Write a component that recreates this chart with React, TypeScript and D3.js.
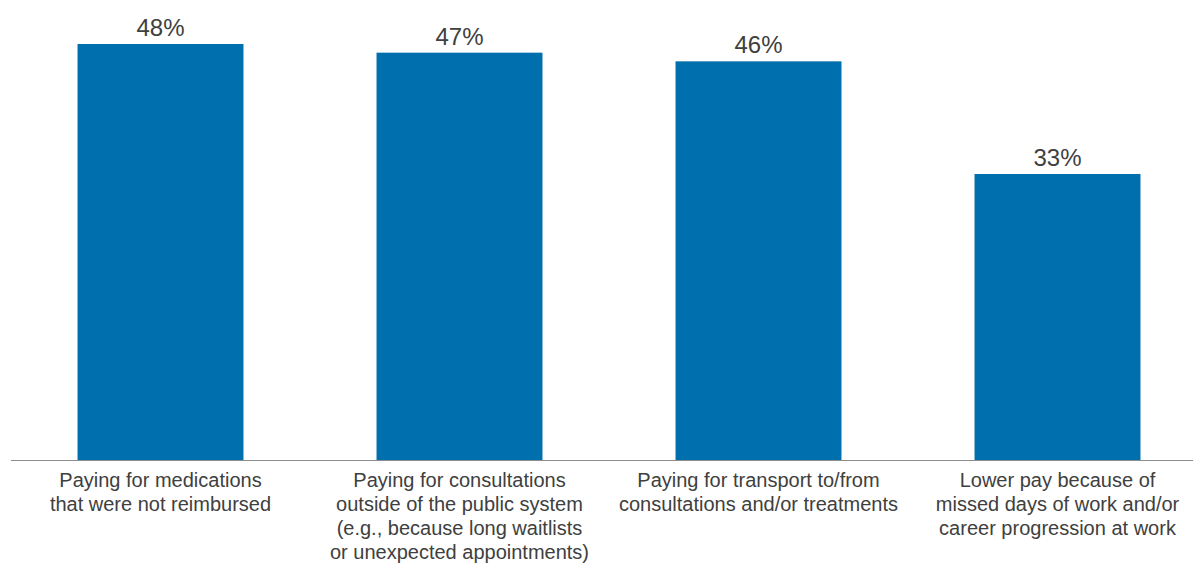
import React from "react";
import * as d3 from "d3";

const categories: string[][] = [
  ["Paying for medications", "that were not reimbursed"],
  ["Paying for consultations", "outside of the public system", "(e.g., because long waitlists", "or unexpected appointments)"],
  ["Paying for transport to/from", "consultations and/or treatments"],
  ["Lower pay because of", "missed days of work and/or", "career progression at work"],
];
const values: number[] = [48, 47, 46, 33];
const valueLabels: string[] = ["48%", "47%", "46%", "33%"];

const W = 1193;
const H = 563;
const BAR = "#006FAD";
const TEXT = "#404040";
const FONT = "'Liberation Sans', Arial, sans-serif";

export default function App() {
  const ids = categories.map((_, i) => String(i));
  const x = d3.scaleBand<string>().domain(ids).range([11, 1207]).paddingInner(0.445).paddingOuter(0.2225);
  const y = d3.scaleLinear().domain([0, 48]).range([460, 44]);
  const baseY = y(0);
  return (
    <svg width={W} height={H} style={{ position: "absolute", left: 0, top: 0, display: "block" }} fontFamily={FONT}>
      {values.map((v, i) => (
        <g key={i}>
          <rect x={x(ids[i])!} y={y(v)} width={x.bandwidth()} height={baseY - y(v)} fill={BAR} />
          <text x={x(ids[i])! + x.bandwidth() / 2} y={y(v) - 8} textAnchor="middle" fontSize={24} fill={TEXT}>
            {valueLabels[i]}
          </text>
        </g>
      ))}
      <line x1={11} x2={W} y1={baseY + 0.5} y2={baseY + 0.5} stroke="#8c8c8c" strokeWidth={1} />
      {categories.map((lines, i) => (
        <text key={i} textAnchor="middle" fontSize={20} fill={TEXT}>
          {lines.map((l, j) => (
            <tspan key={j} x={x(ids[i])! + x.bandwidth() / 2} y={487 + j * 24}>
              {l}
            </tspan>
          ))}
        </text>
      ))}
    </svg>
  );
}
